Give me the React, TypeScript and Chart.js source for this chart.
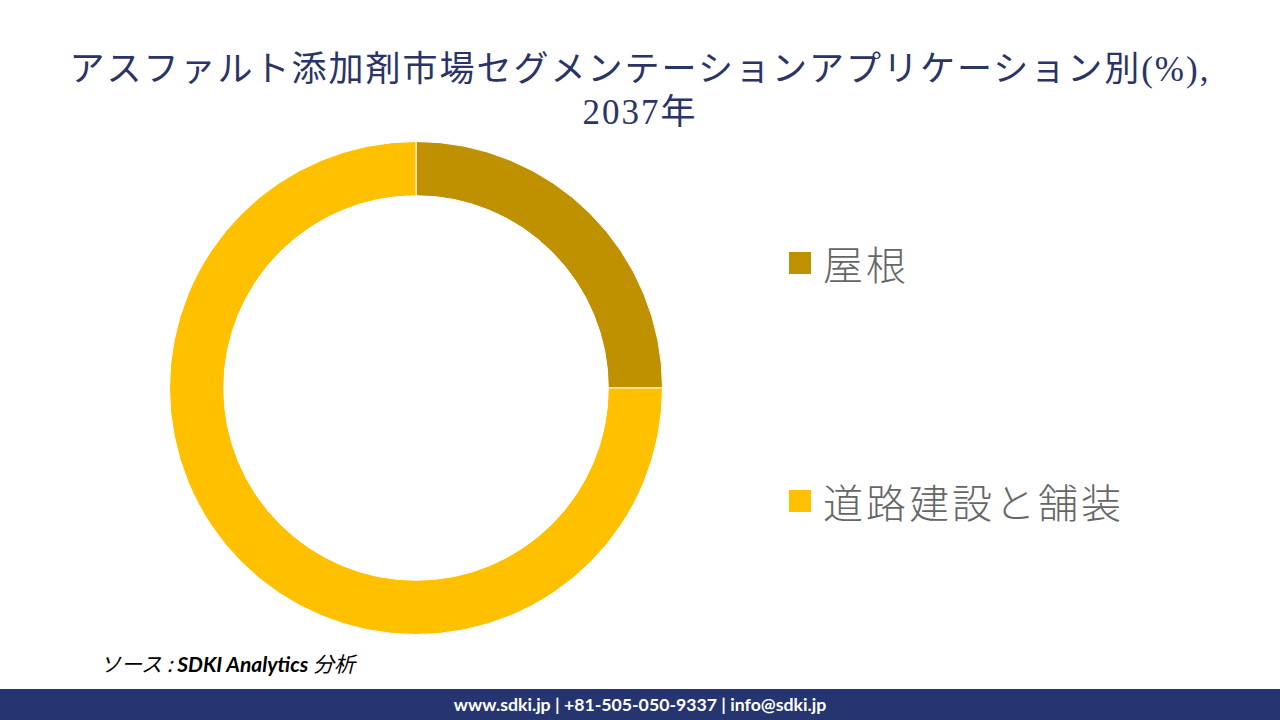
import React, { useEffect, useRef } from "react";
import { Chart, registerables } from "chart.js";

Chart.register(...registerables);

const TITLE_LINE1 = "アスファルト添加剤市場セグメンテーションアプリケーション別(%),";
const TITLE_LINE2 = "2037年";
const categories = ["屋根", "道路建設と舗装"];
const shares = [25, 75];
const segmentColors = ["#BF9000", "#FFC000"];
const SOURCE_PREFIX = "ソース : ";
const SOURCE_NAME = "SDKI Analytics";
const SOURCE_SUFFIX = " 分析";
const FOOTER = "www.sdki.jp | +81-505-050-9337 | info@sdki.jp";

export default function App() {
  const canvasRef = useRef<HTMLCanvasElement | null>(null);

  useEffect(() => {
    document.body.style.margin = "0";
    const ctx = canvasRef.current;
    if (!ctx) return;
    const chart = new Chart(ctx, {
      type: "doughnut",
      data: {
        labels: categories,
        datasets: [
          {
            data: shares,
            backgroundColor: segmentColors,
            borderColor: "#FFFFFF",
            borderWidth: 1,
          },
        ],
      },
      options: {
        responsive: false,
        animation: false,
        cutout: "78%",
        layout: { padding: 0 },
        plugins: {
          legend: { display: false },
          tooltip: { enabled: false },
          title: { display: false },
        },
      },
    });
    return () => chart.destroy();
  }, []);

  const serif = "'Liberation Serif', 'DejaVu Serif', 'Noto Sans CJK JP', serif";
  const sans = "'Noto Sans CJK JP', 'Noto Sans', sans-serif";

  return (
    <div
      style={{
        position: "fixed",
        left: 0,
        top: 0,
        width: 1280,
        height: 720,
        background: "#FFFFFF",
        overflow: "hidden",
      }}
    >
      <div
        style={{
          position: "absolute",
          left: 0,
          top: 48,
          width: 1280,
          textAlign: "center",
          fontFamily: serif,
          fontSize: 35,
          lineHeight: "43px",
          color: "#2B3467",
          letterSpacing: 2,
        }}
      >
        <div>{TITLE_LINE1}</div>
        <div>{TITLE_LINE2}</div>
      </div>

      <canvas
        ref={canvasRef}
        width={494}
        height={494}
        style={{ position: "absolute", left: 169, top: 141, width: 494, height: 494 }}
      />

      {categories.map((c, i) => (
        <div
          key={c}
          style={{
            position: "absolute",
            left: 789,
            top: i === 0 ? 235 : 473,
            height: 56,
            display: "flex",
            alignItems: "center",
            fontFamily: sans,
            fontSize: 40,
            fontWeight: 300,
            color: "#666666",
            letterSpacing: 3,
          }}
        >
          <span
            style={{
              display: "inline-block",
              width: 22,
              height: 22,
              background: segmentColors[i],
              marginRight: 12,
            }}
          />
          <span>{c}</span>
        </div>
      ))}

      <div
        style={{
          position: "absolute",
          left: 100,
          top: 649,
          fontSize: 21,
          lineHeight: "28px",
          fontStyle: "italic",
          color: "#000000",
          fontFamily: "'Lato', 'Noto Sans CJK JP', sans-serif",
          whiteSpace: "nowrap",
        }}
      >
        <span style={{ fontFamily: sans }}>{SOURCE_PREFIX}</span>
        <span style={{ fontWeight: 700 }}>{SOURCE_NAME}</span>
        <span style={{ fontFamily: sans }}>{SOURCE_SUFFIX}</span>
      </div>

      <div
        style={{
          position: "absolute",
          left: 0,
          top: 689,
          width: 1280,
          height: 31,
          background: "#263470",
          color: "#FFFFFF",
          fontFamily: "'Lato', 'Open Sans', sans-serif",
          fontWeight: 700,
          fontSize: 17.7,
          lineHeight: "31px",
          textAlign: "center",
        }}
      >
        {FOOTER}
      </div>
    </div>
  );
}
